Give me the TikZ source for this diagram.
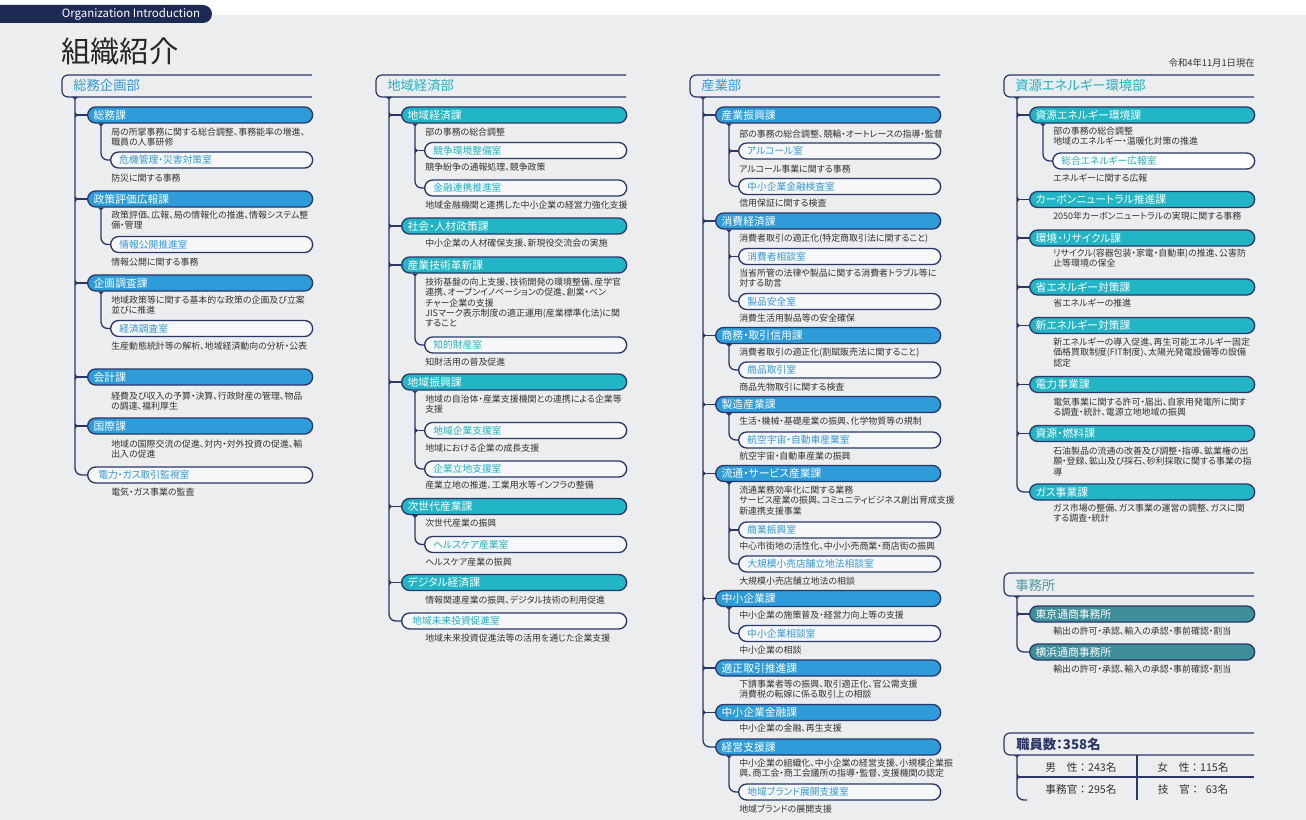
\documentclass[tikz,border=0pt]{standalone}
\usepackage{fontspec}
\setmainfont{Noto Sans CJK JP}[RawFeature=+palt]
\newfontfamily\hyojun{Noto Sans CJK JP}
\usepackage{tikz}
\usetikzlibrary{arrows.meta, positioning, calc}

\definecolor{navy}{HTML}{2B3768}
\definecolor{tabnavy}{HTML}{1D2A54}
\definecolor{blueka}{HTML}{2D9CD9}
\definecolor{tealka}{HTML}{22B5C6}
\definecolor{officeka}{HTML}{3F8F9B}
\definecolor{bluetx}{HTML}{3399D6}
\definecolor{tealtx}{HTML}{23B1C2}
\definecolor{officetx}{HTML}{4D98A3}
\definecolor{pillw}{HTML}{F6F7F9}
\definecolor{desc}{HTML}{333333}
\definecolor{bg}{HTML}{ECEDEF}

\begin{document}
\begin{tikzpicture}[x=0.75pt, y=-0.75pt,
  ka/.style={draw=navy, line width=1pt, fill=#1, text=white, rounded corners=6pt,
    anchor=west, minimum height=12pt, inner xsep=4.5pt, inner ysep=0pt,
    text width=159.75pt, text height=6.6pt, text depth=0.4pt,
    font=\fontsize{8.1}{9}\selectfont},
  shitsu/.style={draw=navy, line width=1pt, fill=pillw, text=#1, rounded corners=6pt,
    anchor=west, minimum height=12pt, inner xsep=6.5pt, inner ysep=0pt,
    text width=138.5pt, text height=6pt, text depth=0.4pt,
    font=\fontsize{7.3}{9}\selectfont},
  honshitsu/.style={shitsu=#1, inner xsep=8pt, text width=152.75pt},
  setsu/.style={anchor=base west, align=left, inner sep=0pt, text=desc,
    font=\fontsize{6.7}{7.7}\selectfont},
  bu/.style={anchor=base west, inner sep=0pt, text=#1, font=\fontsize{10}{12}\selectfont},
  ln/.style={draw=navy, line width=1pt},
  eda/.style={ln, {Triangle[reversed, length=2pt, width=4.5pt]}-},
  matsu/.style={eda, rounded corners=5pt},
  fr/.style={ln, line width=0.9pt, rounded corners=4.5pt},
  kazu/.style={text=desc, font=\hyojun\fontsize{8}{9}\selectfont},
]
\useasboundingbox (0,0) rectangle (1306,820);
\fill[white] (0,0) rectangle (1306,820);
\fill[bg] (0,15) rectangle (1306,820);

% title bar
\fill[tabnavy, rounded corners=6.75pt] (-20,5) rectangle (212,23);
\node[text=white, font=\hyojun\fontsize{8.6}{10}\selectfont] (tab) at (131,14.5) {Organization Introduction};
\node[anchor=west, inner sep=0pt, text=black!85, font=\fontsize{22}{26}\selectfont] (title) at (61,51) {組織紹介};
\node[anchor=east, inner sep=0pt, text=desc, font=\hyojun\fontsize{7}{8}\selectfont] (date) at (1255,63) {令和4年11月1日現在};

% 総務企画部
\draw[fr] (312,75) -- (62,75) -- (62,97) -- (312,97);
\node[bu=bluetx] (h1) at (73,91) {総務企画部};
\coordinate (t1) at (75,97);
\node[ka=blueka] (soumu) at (87,115) {総務課};
\node[setsu] (d1a) at (111,145.3) {局の所掌事務に関する総合調整、事務能率の増進、\\職員の人事研修};
\node[shitsu=bluetx] (kiki) at (110,160) {危機管理・災害対策室};
\node[setsu] (d1b) at (111,181.5) {防災に関する事務};
\node[ka=blueka] (seisaku) at (87,199) {政策評価広報課};
\node[setsu] (d1c) at (111,228.8) {政策評価、広報、局の情報化の推進、情報システム整\\備・管理};
\node[shitsu=bluetx] (koukai) at (110,244.5) {情報公開推進室};
\node[setsu] (d1d) at (111,265.5) {情報公開に関する事務};
\node[ka=blueka] (kikaku) at (87,283) {企画調査課};
\node[setsu] (d1e) at (111,313.8) {地域政策等に関する基本的な政策の企画及び立案\\並びに推進};
\node[shitsu=bluetx] (keichou) at (110,328.5) {経済調査室};
\node[setsu] (d1f) at (111,349.5) {生産動態統計等の解析、地域経済動向の分析・公表};
\node[ka=blueka] (kaikei) at (87,377) {会計課};
\node[setsu] (d1g) at (111,409.3) {経費及び収入の予算・決算、行政財産の管理、物品\\の調達、福利厚生};
\node[ka=blueka] (kokusai) at (87,426) {国際課};
\node[setsu] (d1h) at (111,457.8) {地域の国際交流の促進、対内・対外投資の促進、輸\\出入の促進};
\node[honshitsu=bluetx] (denryoku) at (87,475) {電力・ガス取引監視室};
\node[setsu] (d1i) at (111,495.5) {電気・ガス事業の監査};

\draw[matsu] (t1) |- (denryoku.west);
\draw[eda] (t1 |- soumu.west) -- (soumu.west);
\draw[eda] (t1 |- seisaku.west) -- (seisaku.west);
\draw[eda] (t1 |- kikaku.west) -- (kikaku.west);
\draw[eda] (t1 |- kaikei.west) -- (kaikei.west);
\draw[eda] (t1 |- kokusai.west) -- (kokusai.west);
\coordinate (s1a) at ([xshift=10.5pt]soumu.south west);
\coordinate (s1b) at ([xshift=10.5pt]seisaku.south west);
\coordinate (s1c) at ([xshift=10.5pt]kikaku.south west);
\draw[matsu] (s1a) |- (kiki.west);
\draw[matsu] (s1b) |- (koukai.west);
\draw[matsu] (s1c) |- (keichou.west);

% 地域経済部
\draw[fr] (626,75) -- (376,75) -- (376,97) -- (626,97);
\node[bu=tealtx] (h2) at (387,91) {地域経済部};
\coordinate (t2) at (389,97);
\node[ka=tealka] (chiiki) at (401,115) {地域経済課};
\node[setsu] (d2a) at (425,135.5) {部の事務の総合調整};
\node[shitsu=tealtx] (kyoso) at (424,150.5) {競争環境整備室};
\node[setsu] (d2b) at (425,170.5) {競争紛争の通報処理、競争政策};
\node[shitsu=tealtx] (kinyu) at (424,188) {金融連携推進室};
\node[setsu] (d2c) at (425,208.5) {地域金融機関と連携した中小企業の経営力強化支援};
\node[ka=tealka] (shakai) at (401,226) {社会・人材政策課};
\node[setsu] (d2d) at (425,246.5) {中小企業の人材確保支援、新現役交流会の実施};
\node[ka=tealka] (sangi) at (401,265) {産業技術革新課};
\node[setsu] (d2e) at (425,326.6) {技術基盤の向上支援、技術開発の環境整備、産学官\\連携、オープンイノベーションの促進、創業・ベン\\チャー企業の支援\\JISマーク表示制度の適正運用(産業標準化法)に関\\すること};
\node[shitsu=tealtx] (chizai) at (424,345) {知的財産室};
\node[setsu] (d2f) at (425,365.5) {知財活用の普及促進};
\node[ka=tealka] (shinko) at (401,382) {地域振興課};
\node[setsu] (d2g) at (425,412.8) {地域の自治体・産業支援機関との連携による企業等\\支援};
\node[shitsu=tealtx] (kigyo) at (424,430.5) {地域企業支援室};
\node[setsu] (d2h) at (425,451.5) {地域における企業の成長支援};
\node[shitsu=tealtx] (ricchi) at (424,469) {企業立地支援室};
\node[setsu] (d2i) at (425,488.5) {産業立地の推進、工業用水等インフラの整備};
\node[ka=tealka] (jisedai) at (401,506.5) {次世代産業課};
\node[setsu] (d2j) at (425,526.5) {次世代産業の振興};
\node[shitsu=tealtx] (health) at (424,544.5) {ヘルスケア産業室};
\node[setsu] (d2k) at (425,565.5) {ヘルスケア産業の振興};
\node[ka=tealka] (digital) at (401,582.5) {デジタル経済課};
\node[setsu] (d2l) at (425,603.5) {情報関連産業の振興、デジタル技術の利用促進};
\node[honshitsu=tealtx] (mirai) at (401,621) {地域未来投資促進室};
\node[setsu] (d2m) at (425,641.5) {地域未来投資促進法等の活用を通じた企業支援};

\draw[matsu] (t2) |- (mirai.west);
\draw[eda] (t2 |- chiiki.west) -- (chiiki.west);
\draw[eda] (t2 |- shakai.west) -- (shakai.west);
\draw[eda] (t2 |- sangi.west) -- (sangi.west);
\draw[eda] (t2 |- shinko.west) -- (shinko.west);
\draw[eda] (t2 |- jisedai.west) -- (jisedai.west);
\draw[eda] (t2 |- digital.west) -- (digital.west);
\coordinate (s2a) at ([xshift=10.5pt]chiiki.south west);
\coordinate (s2b) at ([xshift=10.5pt]sangi.south west);
\coordinate (s2c) at ([xshift=10.5pt]shinko.south west);
\coordinate (s2d) at ([xshift=10.5pt]jisedai.south west);
\draw[matsu] (s2a) |- (kinyu.west);
\draw[eda] (s2a |- kyoso.west) -- (kyoso.west);
\draw[matsu] (s2b) |- (chizai.west);
\draw[matsu] (s2c) |- (ricchi.west);
\draw[eda] (s2c |- kigyo.west) -- (kigyo.west);
\draw[matsu] (s2d) |- (health.west);

% 産業部
\draw[fr] (940,75) -- (690,75) -- (690,97) -- (940,97);
\node[bu=bluetx] (h3) at (701,91) {産業部};
\coordinate (t3) at (703,97);
\node[ka=blueka] (sangyo) at (715,115) {産業振興課};
\node[setsu] (d3a) at (739,137.5) {部の事務の総合調整、競輪・オートレースの指導・監督};
\node[shitsu=bluetx] (alcohol) at (738,151) {アルコール室};
\node[setsu] (d3b) at (739,172.5) {アルコール事業に関する事務};
\node[shitsu=bluetx] (kensa) at (738,186.5) {中小企業金融検査室};
\node[setsu] (d3c) at (739,206.5) {信用保証に関する検査};
\node[ka=blueka] (shohi) at (715,221) {消費経済課};
\node[setsu] (d3d) at (739,241.5) {消費者取引の適正化(特定商取引法に関すること)};
\node[shitsu=bluetx] (sodan) at (738,256.5) {消費者相談室};
\node[setsu] (d3e) at (739,286.8) {当省所管の法律や製品に関する消費者トラブル等に\\対する助言};
\node[shitsu=bluetx] (seihin) at (738,301.5) {製品安全室};
\node[setsu] (d3f) at (739,321.5) {消費生活用製品等の安全確保};
\node[ka=blueka] (shomu) at (715,335.5) {商務・取引信用課};
\node[setsu] (d3g) at (739,355.5) {消費者取引の適正化(割賦販売法に関すること)};
\node[shitsu=bluetx] (shohin) at (738,370) {商品取引室};
\node[setsu] (d3h) at (739,390.5) {商品先物取引に関する検査};
\node[ka=blueka] (seizo) at (715,404.5) {製造産業課};
\node[setsu] (d3i) at (739,424.5) {生活・機械・基礎産業の振興、化学物質等の規制};
\node[shitsu=bluetx] (koku) at (738,440) {航空宇宙・自動車産業室};
\node[setsu] (d3j) at (739,459.5) {航空宇宙・自動車産業の振興};
\node[ka=blueka] (ryutsu) at (715,473.5) {流通・サービス産業課};
\node[setsu] (d3k) at (739,514) {流通業務効率化に関する業務\\サービス産業の振興、コミュニティビジネス創出育成支援\\新連携支援事業};
\node[shitsu=bluetx] (shogyo) at (738,530) {商業振興室};
\node[setsu] (d3l) at (739,549.5) {中心市街地の活性化、中小小売商業・商店街の振興};
\node[shitsu=bluetx] (daikibo) at (738,564) {大規模小売店舗立地法相談室};
\node[setsu] (d3m) at (739,584.5) {大規模小売店舗立地法の相談};
\node[ka=blueka] (chusho) at (715,598.5) {中小企業課};
\node[setsu] (d3n) at (739,618.5) {中小企業の施策普及・経営力向上等の支援};
\node[shitsu=bluetx] (chusodan) at (738,633.5) {中小企業相談室};
\node[setsu] (d3o) at (739,653.5) {中小企業の相談};
\node[ka=blueka] (tekisei) at (715,668) {適正取引推進課};
\node[setsu] (d3p) at (739,697.8) {下請事業者等の振興、取引適正化、官公需支援\\消費税の転嫁に係る取引上の相談};
\node[ka=blueka] (kinyuka) at (715,712.5) {中小企業金融課};
\node[setsu] (d3q) at (739,731.5) {中小企業の金融、再生支援};
\node[ka=blueka] (keiei) at (715,747) {経営支援課};
\node[setsu] (d3r) at (739,776.8) {中小企業の組織化、中小企業の経営支援、小規模企業振\\興、商工会・商工会議所の指導・監督、支援機関の認定};
\node[shitsu=bluetx] (brand) at (738,792) {地域ブランド展開支援室};
\node[setsu] (d3s) at (739,812.5) {地域ブランドの展開支援};

\draw[matsu] (t3) |- (keiei.west);
\draw[eda] (t3 |- sangyo.west) -- (sangyo.west);
\draw[eda] (t3 |- shohi.west) -- (shohi.west);
\draw[eda] (t3 |- shomu.west) -- (shomu.west);
\draw[eda] (t3 |- seizo.west) -- (seizo.west);
\draw[eda] (t3 |- ryutsu.west) -- (ryutsu.west);
\draw[eda] (t3 |- chusho.west) -- (chusho.west);
\draw[eda] (t3 |- tekisei.west) -- (tekisei.west);
\draw[eda] (t3 |- kinyuka.west) -- (kinyuka.west);
\coordinate (s3a) at ([xshift=10.5pt]sangyo.south west);
\coordinate (s3b) at ([xshift=10.5pt]shohi.south west);
\coordinate (s3c) at ([xshift=10.5pt]shomu.south west);
\coordinate (s3d) at ([xshift=10.5pt]seizo.south west);
\coordinate (s3e) at ([xshift=10.5pt]ryutsu.south west);
\coordinate (s3f) at ([xshift=10.5pt]chusho.south west);
\coordinate (s3g) at ([xshift=10.5pt]keiei.south west);
\draw[matsu] (s3a) |- (kensa.west);
\draw[eda] (s3a |- alcohol.west) -- (alcohol.west);
\draw[matsu] (s3b) |- (seihin.west);
\draw[eda] (s3b |- sodan.west) -- (sodan.west);
\draw[matsu] (s3c) |- (shohin.west);
\draw[matsu] (s3d) |- (koku.west);
\draw[matsu] (s3e) |- (daikibo.west);
\draw[eda] (s3e |- shogyo.west) -- (shogyo.west);
\draw[matsu] (s3f) |- (chusodan.west);
\draw[matsu] (s3g) |- (brand.west);

% 資源エネルギー環境部
\draw[fr] (1254,75) -- (1004,75) -- (1004,97) -- (1254,97);
\node[bu=tealtx] (h4) at (1015,91) {資源エネルギー環境部};
\coordinate (t4) at (1017,97);
\node[ka=tealka] (shigen) at (1029,115) {資源エネルギー環境課};
\node[setsu] (d4a) at (1053,144.8) {部の事務の総合調整\\地域のエネルギー・温暖化対策の推進};
\node[shitsu=tealtx, fill=white] (koho) at (1052,161) {総合エネルギー広報室};
\node[setsu] (d4b) at (1053,181.5) {エネルギーに関する広報};
\node[ka=tealka] (carbon) at (1029,199.5) {カーボンニュートラル推進課};
\node[setsu] (d4c) at (1053,219.5) {2050年カーボンニュートラルの実現に関する事務};
\node[ka=tealka] (kankyo) at (1029,238) {環境・リサイクル課};
\node[setsu] (d4d) at (1053,266.8) {リサイクル(容器包装・家電・自動車)の推進、公害防\\止等環境の保全};
\node[ka=tealka] (shoene) at (1029,287) {省エネルギー対策課};
\node[setsu] (d4e) at (1053,306.5) {省エネルギーの推進};
\node[ka=tealka] (shinene) at (1029,325.5) {新エネルギー対策課};
\node[setsu] (d4f) at (1053,366) {新エネルギーの導入促進、再生可能エネルギー固定\\価格買取制度(FIT制度)、太陽光発電設備等の設備\\認定};
\node[ka=tealka] (denryokuka) at (1029,384.5) {電力事業課};
\node[setsu] (d4g) at (1053,415.8) {電気事業に関する許可・届出、自家用発電所に関す\\る調査・統計、電源立地地域の振興};
\node[ka=tealka] (nenryo) at (1029,433.5) {資源・燃料課};
\node[setsu] (d4h) at (1053,475) {石油製品の流通の改善及び調整・指導、鉱業権の出\\願・登録、鉱山及び採石、砂利採取に関する事業の指\\導};
\node[ka=tealka] (gas) at (1029,492) {ガス事業課};
\node[setsu] (d4i) at (1053,521.8) {ガス市場の整備、ガス事業の運営の調整、ガスに関\\する調査・統計};

\draw[matsu] (t4) |- (gas.west);
\draw[eda] (t4 |- shigen.west) -- (shigen.west);
\draw[eda] (t4 |- carbon.west) -- (carbon.west);
\draw[eda] (t4 |- kankyo.west) -- (kankyo.west);
\draw[eda] (t4 |- shoene.west) -- (shoene.west);
\draw[eda] (t4 |- shinene.west) -- (shinene.west);
\draw[eda] (t4 |- denryokuka.west) -- (denryokuka.west);
\draw[eda] (t4 |- nenryo.west) -- (nenryo.west);
\coordinate (s4a) at ([xshift=10.5pt]shigen.south west);
\draw[matsu] (s4a) |- (koho.west);

% 事務所
\draw[fr] (1254,573) -- (1004,573) -- (1004,596) -- (1254,596);
\node[bu=officetx] (h5) at (1015,590) {事務所};
\coordinate (t5) at (1017,596);
\node[ka=officeka] (tokyo) at (1029,614) {東京通商事務所};
\node[setsu] (d5a) at (1053,634.5) {輸出の許可・承認、輸入の承認・事前確認・割当};
\node[ka=officeka] (yokohama) at (1029,652) {横浜通商事務所};
\node[setsu] (d5b) at (1053,672.5) {輸出の許可・承認、輸入の承認・事前確認・割当};
\draw[matsu] (t5) |- (yokohama.west);
\draw[eda] (t5 |- tokyo.west) -- (tokyo.west);

% 職員数
\draw[fr] (1254,733) -- (1004,733) -- (1004,755) -- (1254,755);
\node[anchor=base west, inner sep=0pt, text=navy, font=\bfseries\fontsize{10}{12}\selectfont] (h6) at (1016,749.5) {職員数：358名};
\coordinate (t6) at (1017,755);
\coordinate (r1) at (1017,777);
\coordinate (r1e) at (1254,777);
\coordinate (r2) at (1027,800);
\coordinate (k1) at (1137,755);
\coordinate (k2) at (1137,800);
\draw[matsu] (t6) |- (r2);
\draw[eda] (r1) -- (r1e);
\draw[ln] (k1) -- (k2);
\node[kazu] (otoko) at (1081,767) {男　性：243名};
\node[kazu] (onna) at (1193,767) {女　性：115名};
\node[kazu] (jimu) at (1081,789) {事務官：295名};
\node[kazu] (gikan) at (1193,789) {技　官：\enspace 63名};
\end{tikzpicture}
\end{document}
